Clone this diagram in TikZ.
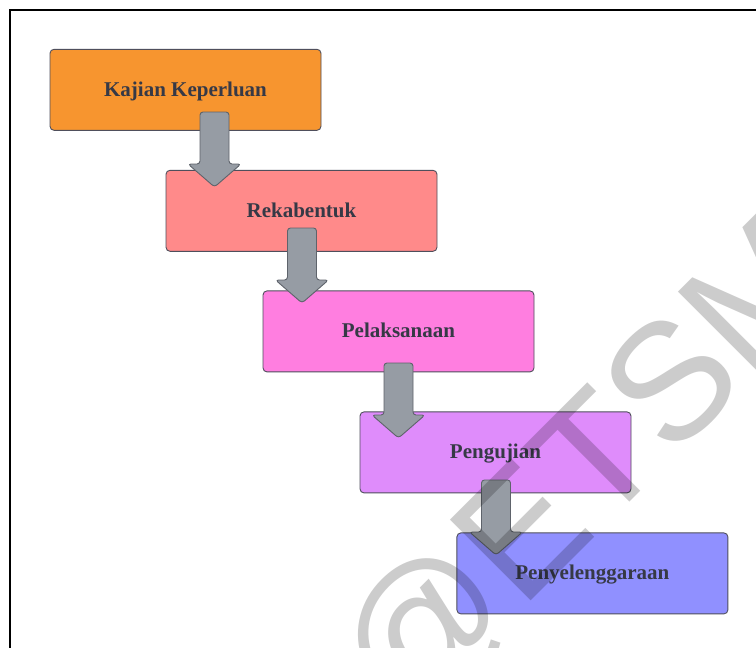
\documentclass[tikz,border=0pt]{standalone}
\usepackage{fontspec}
\setmainfont{Liberation Serif}
\newfontfamily\wmfont{Liberation Sans}
\definecolor{cA}{HTML}{F7952F}
\definecolor{cB}{HTML}{FF8A8A}
\definecolor{cC}{HTML}{FF7EE0}
\definecolor{cD}{HTML}{DF8CFB}
\definecolor{cE}{HTML}{9090FF}
\definecolor{boxline}{HTML}{4F4F5C}
\definecolor{txt}{HTML}{363946}
\definecolor{arrfill}{HTML}{969CA4}
\definecolor{arrline}{HTML}{5E636B}
\begin{document}
\begin{tikzpicture}[x=1pt,y=-1pt,
  stage/.style={draw=boxline, line width=0.9pt, rounded corners=4pt,
    minimum width=271pt, minimum height=81pt, inner sep=0pt,
    text height=16pt, text depth=3.2pt,
    font=\fontsize{21}{21}\selectfont\bfseries, text=txt},
  barrow/.style={fill=arrfill, draw=arrline, line width=0.9pt,
    rounded corners=3pt, line join=round},
  downarrow/.pic={\draw[barrow] (-14.5,0) -- (14.5,0) -- (14.5,52) -- (26.5,52)
      -- (0,75) -- (-26.5,52) -- (-14.5,52) -- cycle;}]
\useasboundingbox (0,0) rectangle (756,648);
\clip (0,0) rectangle (756,648);
\fill[white] (0,0) rectangle (756,648);
\draw[line width=2pt] (10,10) rectangle (800,700);

\node[stage, fill=cA] (n1) at (185.5,89.8) {Kajian Keperluan};
\node[stage, fill=cB] (n2) at (301.5,210.8) {Rekabentuk};
\node[stage, fill=cC] (n3) at (398.5,331.4) {Pelaksanaan};
\node[stage, fill=cD] (n4) at (495.5,452.4) {Pengujian};
\node[stage, fill=cE] (n5) at (592.4,573.4) {Penyelenggaraan};

\coordinate (t1) at (214.5,112);
\coordinate (t2) at (302,228);
\coordinate (t3) at (398.5,363);
\coordinate (t4) at (496,480);
\pic at (t1) {downarrow};
\pic at (t2) {downarrow};
\pic at (t3) {downarrow};
\pic at (t4) {downarrow};

\node[rotate=45, anchor=base west, inner sep=0pt, text=black, text opacity=0.2,
  font=\wmfont\fontsize{166}{166}\selectfont] (wm) at (402,730) {@ETSM};
\end{tikzpicture}
\end{document}
